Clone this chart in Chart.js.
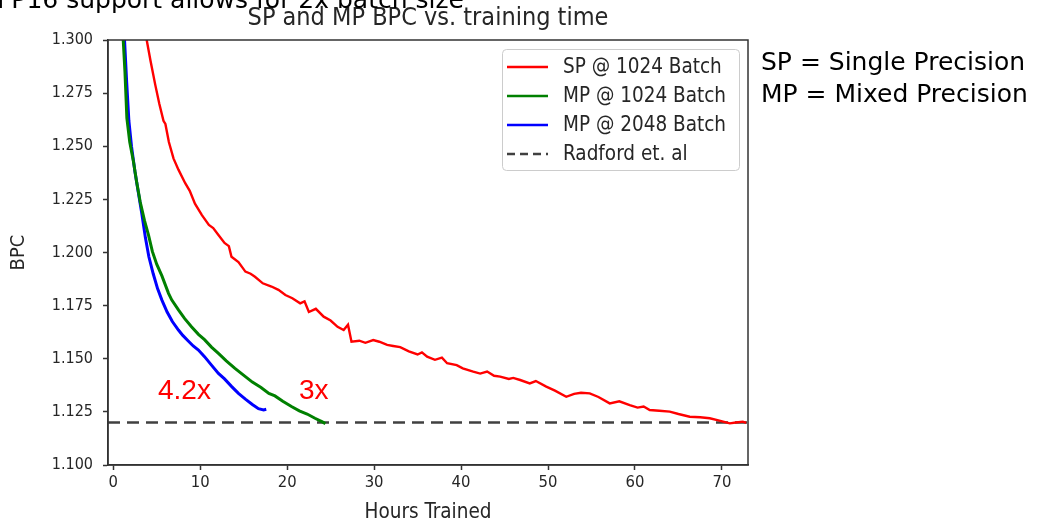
<!DOCTYPE html>
<html>
<head>
<meta charset="utf-8">
<script src="https://cdn.jsdelivr.net/npm/chart.js@4.4.1/dist/chart.umd.min.js"></script>
<style>
html,body{margin:0;padding:0;background:#fff;}
#wrap{width:1037px;height:523px;}
</style>
</head>
<body>
<div id="wrap"><canvas id="c" width="1037" height="523"></canvas></div>
<script>
// ---- data ----
const spHours = [3.85,4.3,4.83,5.3,5.78,6.0,6.4,6.93,7.5,8.28,8.8,9.4,10.2,11.0,11.5,12.1,12.8,13.3,13.6,14.4,15.2,15.8,16.3,17.2,18.2,19.0,19.8,20.6,21.5,22.0,22.5,23.3,24.2,25.0,25.8,26.5,27.0,27.4,28.3,29.0,29.9,30.6,31.5,32.2,33.0,34.0,35.0,35.5,36.1,37.0,37.8,38.4,39.5,40.2,41.4,42.2,43.0,43.8,44.5,45.5,46.0,46.8,47.9,48.6,49.8,50.8,52.1,53.0,53.8,54.8,55.8,57.1,58.2,59.4,60.3,61.0,61.7,62.8,64.0,65.0,66.3,67.5,68.6,69.6,70.9,71.6,72.4,72.8];
const spBPC = [1.300,1.290,1.279,1.270,1.262,1.2605,1.252,1.2443,1.239,1.2326,1.229,1.223,1.2176,1.213,1.2115,1.2082,1.2045,1.2030,1.198,1.1955,1.191,1.1900,1.1886,1.1855,1.1840,1.1824,1.1800,1.1785,1.1761,1.1770,1.1720,1.1735,1.1698,1.1680,1.1650,1.1635,1.1660,1.1580,1.1585,1.1575,1.1588,1.1580,1.1565,1.1560,1.1555,1.1535,1.1520,1.1530,1.1510,1.1495,1.1505,1.1479,1.1470,1.1455,1.1439,1.1430,1.1440,1.1420,1.1416,1.1405,1.1410,1.1400,1.1384,1.1395,1.1369,1.1350,1.1321,1.1335,1.1340,1.1337,1.1320,1.1290,1.1300,1.1282,1.1270,1.1275,1.1259,1.1255,1.1251,1.1240,1.1227,1.1225,1.1220,1.1210,1.1196,1.1200,1.1204,1.1198];

const mp1024Hours = [1.15,1.35,1.57,1.9,2.33,2.7,3.1,3.6,4.06,4.5,5.0,5.6,6.36,6.74,7.5,8.2,9.0,9.8,10.5,11.3,12.1,13.0,14.0,15.2,16.0,17.0,17.9,18.6,19.5,20.5,21.4,22.3,23.2,24.0,24.4];
const mp1024BPC = [1.300,1.285,1.2632,1.252,1.2427,1.233,1.2239,1.215,1.2082,1.2005,1.1945,1.189,1.1808,1.1776,1.1730,1.1690,1.1651,1.1615,1.1590,1.1555,1.1525,1.1490,1.1455,1.1416,1.1390,1.1365,1.1337,1.1325,1.1300,1.1275,1.1255,1.1240,1.1220,1.1204,1.1195];

const mp2048Hours = [1.3,1.55,1.8,2.1,2.5,2.9,3.3,3.7,4.1,4.6,5.1,5.6,6.2,6.8,7.5,8.0,8.6,9.2,9.8,10.5,11.3,12.1,12.8,13.6,14.4,15.2,16.0,16.7,17.3,17.6];
const mp2048BPC = [1.300,1.280,1.262,1.250,1.238,1.228,1.218,1.207,1.198,1.190,1.183,1.1776,1.172,1.1675,1.1635,1.161,1.1585,1.1560,1.1541,1.1510,1.1470,1.1431,1.1405,1.1370,1.1337,1.1310,1.1285,1.1265,1.1259,1.1262];

const radfordHours = [-0.6, 73];
const radfordBPC = [1.120, 1.120];

const seriesNames = ['SP @ 1024 Batch','MP @ 1024 Batch','MP @ 2048 Batch','Radford et. al'];
const xTicks = [0,10,20,30,40,50,60,70];
const yTicks = [1.100,1.125,1.150,1.175,1.200,1.225,1.250,1.275,1.300];
const annotations = [{text:'4.2x', x:158, y:391},{text:'3x', x:299, y:391}];
const sideNotes = ['SP = Single Precision','MP = Mixed Precision'];
const topNote = 'FP16 support allows for 2x batch size';

function pts(xs, ys){ return xs.map((x,i)=>({x:x, y:ys[i]})); }

const colors = ['#ff0000','#008000','#0000ff','#404040'];
const COND = '"DejaVu Sans Condensed", "DejaVu Sans", sans-serif';

const overlay = {
  id:'overlay',
  beforeDraw(chart){
    const ctx = chart.ctx;
    ctx.save(); ctx.fillStyle='#fff'; ctx.fillRect(0,0,chart.width,chart.height); ctx.restore();
  },
  afterDraw(chart){
    const ctx = chart.ctx, a = chart.chartArea;
    ctx.save();
    // frame
    ctx.strokeStyle='#333'; ctx.lineWidth=1.5;
    ctx.strokeRect(a.left, a.top, a.right-a.left, a.bottom-a.top);
    // legend
    const lx=502, ly=49, lw=237, lh=121;
    ctx.fillStyle='rgba(255,255,255,0.85)';
    ctx.strokeStyle='#cccccc'; ctx.lineWidth=1;
    ctx.beginPath();
    if (ctx.roundRect) ctx.roundRect(lx+0.5,ly+0.5,lw,lh,4); else ctx.rect(lx+0.5,ly+0.5,lw,lh);
    ctx.fill(); ctx.stroke();
    ctx.font='20.5px ' + COND; ctx.textBaseline='middle'; ctx.textAlign='left';
    chart.data.datasets.forEach((ds,i)=>{
      const y = 67 + i*29;
      ctx.strokeStyle = ds.borderColor; ctx.lineWidth = 2.5;
      ctx.setLineDash(ds.borderDash && ds.borderDash.length ? [8,5] : []);
      ctx.beginPath(); ctx.moveTo(507,y); ctx.lineTo(548,y); ctx.stroke();
      ctx.setLineDash([]);
      ctx.fillStyle='#262626';
      ctx.fillText(ds.label, 563, y+1);
    });
    // annotations
    ctx.fillStyle='#ff0000'; ctx.font='28px "Liberation Sans", Arial, sans-serif';
    annotations.forEach(an=>ctx.fillText(an.text, an.x, an.y));
    // side notes
    ctx.fillStyle='#000'; ctx.font='25px "DejaVu Sans"';
    sideNotes.forEach((t,i)=>ctx.fillText(t, 761, 63 + i*32));
    // cut-off top note
    ctx.textAlign='right'; ctx.textBaseline='alphabetic';
    ctx.fillText(topNote, 464, 8);
    ctx.restore();
  }
};

new Chart(document.getElementById('c'), {
  type:'line',
  data:{
    datasets:[
      {label:seriesNames[0], data:pts(spHours,spBPC), borderColor:colors[0], borderWidth:2.4, pointRadius:0, tension:0, fill:false},
      {label:seriesNames[1], data:pts(mp1024Hours,mp1024BPC), borderColor:colors[1], borderWidth:3, pointRadius:0, tension:0, fill:false},
      {label:seriesNames[2], data:pts(mp2048Hours,mp2048BPC), borderColor:colors[2], borderWidth:3, pointRadius:0, tension:0, fill:false},
      {label:seriesNames[3], data:pts(radfordHours,radfordBPC), borderColor:colors[3], borderWidth:2.5, borderDash:[12,7], pointRadius:0, tension:0, fill:false}
    ]
  },
  options:{
    responsive:false, animation:false, devicePixelRatio:1,
    layout:{padding:{left:0, top:0, right:289, bottom:0}},
    plugins:{
      legend:{display:false}, tooltip:{enabled:false},
      title:{display:true, fullSize:false, text:'SP and MP BPC vs. training time', color:'#262626',
        font:{family:COND, size:25, weight:'normal', lineHeight:1.2}, padding:{top:3,bottom:7}}
    },
    scales:{
      x:{type:'linear', min:-0.6, max:73,
        afterBuildTicks(s){ s.ticks = xTicks.map(v=>({value:v})); },
        afterFit(s){ s.height = 58; },
        grid:{drawOnChartArea:false, drawTicks:true, tickLength:5, tickColor:'#333', tickWidth:1.5},
        border:{display:true, color:'#333', width:1.5},
        ticks:{color:'#262626', font:{family:COND, size:16.5}, padding:3, maxRotation:0,
          callback:(v)=>String(v)},
        title:{display:true, text:'Hours Trained', color:'#262626', font:{family:COND, size:20.5, lineHeight:1.0}, padding:{top:0,bottom:0}}
      },
      y:{type:'linear', min:1.1, max:1.3,
        afterBuildTicks(s){ s.ticks = yTicks.map(v=>({value:v})); },
        afterFit(s){ s.width = 108; },
        grid:{drawOnChartArea:false, drawTicks:true, tickLength:5, tickColor:'#333', tickWidth:1.5},
        border:{display:true, color:'#333', width:1.5},
        ticks:{color:'#262626', font:{family:COND, size:16}, padding:10,
          callback:(v)=>Number(v).toFixed(3)},
        title:{display:true, text:'BPC', color:'#262626', font:{family:COND, size:20, lineHeight:1.2}, padding:{top:7,bottom:0}}
      }
    }
  },
  plugins:[overlay]
});
</script>
</body>
</html>
